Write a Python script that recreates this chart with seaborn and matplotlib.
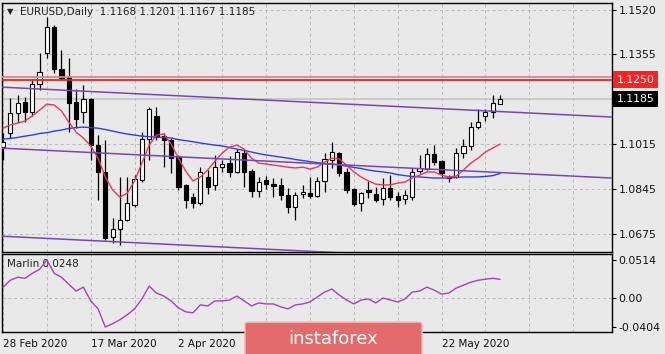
import numpy as np
import pandas as pd
import matplotlib
matplotlib.use("Agg")
import matplotlib.pyplot as plt
import matplotlib.transforms as mtransforms
from matplotlib.patches import FancyBboxPatch
import seaborn as sns

# EURUSD daily candles
opens = [1.1004, 1.1057, 1.1132, 1.1173, 1.1136, 1.1241, 1.1358, 1.1456, 1.1298, 1.1268,
         1.1173, 1.1136, 1.1185, 1.1011, 1.0910, 1.0665, 1.0695, 1.0729, 1.0785, 1.0879,
         1.1034, 1.1121, 1.1045, 1.1030, 1.0966, 1.0861, 1.0815, 1.0793, 1.0891, 1.0861,
         1.0928, 1.0943, 1.0910, 1.0981, 1.0913, 1.0838, 1.0879, 1.0864, 1.0861, 1.0823,
         1.0778, 1.0827, 1.0830, 1.0819, 1.0876, 1.0955, 1.0981, 1.0910, 1.0845, 1.0793,
         1.0842, 1.0827, 1.0808, 1.0849, 1.0819, 1.0808, 1.0815, 1.0913, 1.0921, 1.0977,
         1.0951, 1.0891, 1.0891, 1.0981, 1.1008, 1.1079, 1.1121, 1.1136, 1.1168]
highs = [1.1057, 1.1189, 1.1200, 1.1192, 1.1256, 1.1358, 1.1494, 1.1464, 1.1369, 1.1339,
         1.1222, 1.1238, 1.1189, 1.1049, 1.1030, 1.0736, 1.0891, 1.0891, 1.0898, 1.1060,
         1.1155, 1.1155, 1.1057, 1.1038, 1.0974, 1.0864, 1.0830, 1.0928, 1.0917, 1.0974,
         1.0955, 1.0970, 1.0996, 1.0992, 1.0921, 1.0891, 1.0894, 1.0887, 1.0887, 1.0849,
         1.0834, 1.0861, 1.0891, 1.0891, 1.0981, 1.1023, 1.0985, 1.0925, 1.0849, 1.0834,
         1.0876, 1.0853, 1.0887, 1.0898, 1.0834, 1.0842, 1.0925, 1.0974, 1.1000, 1.1011,
         1.0955, 1.0898, 1.1000, 1.1034, 1.1098, 1.1147, 1.1147, 1.1200, 1.1201]
lows = [1.0955, 1.1038, 1.1098, 1.1098, 1.1121, 1.1219, 1.1339, 1.1283, 1.1256, 1.1060,
        1.1075, 1.1094, 1.0955, 1.0804, 1.0653, 1.0642, 1.0634, 1.0725, 1.0778, 1.0872,
        1.0955, 1.1030, 1.0928, 1.0906, 1.0842, 1.0774, 1.0774, 1.0785, 1.0827, 1.0842,
        1.0910, 1.0891, 1.0906, 1.0853, 1.0815, 1.0815, 1.0845, 1.0815, 1.0804, 1.0755,
        1.0729, 1.0812, 1.0812, 1.0815, 1.0834, 1.0925, 1.0894, 1.0830, 1.0781, 1.0763,
        1.0812, 1.0796, 1.0785, 1.0804, 1.0778, 1.0789, 1.0804, 1.0906, 1.0917, 1.0936,
        1.0891, 1.0872, 1.0887, 1.0962, 1.0992, 1.1072, 1.1102, 1.1113, 1.1167]
closes = [1.1023, 1.1132, 1.1170, 1.1136, 1.1241, 1.1287, 1.1456, 1.1298, 1.1264, 1.1170,
          1.1109, 1.1185, 1.1011, 1.0910, 1.0661, 1.0695, 1.0729, 1.0793, 1.0883, 1.1034,
          1.1147, 1.1042, 1.1030, 1.0962, 1.0853, 1.0804, 1.0793, 1.0910, 1.0853, 1.0928,
          1.0940, 1.0910, 1.0985, 1.0910, 1.0838, 1.0872, 1.0864, 1.0857, 1.0823, 1.0778,
          1.0823, 1.0834, 1.0819, 1.0876, 1.0959, 1.0985, 1.0906, 1.0842, 1.0789, 1.0830,
          1.0834, 1.0804, 1.0849, 1.0815, 1.0804, 1.0823, 1.0910, 1.0925, 1.0977, 1.0947,
          1.0906, 1.0887, 1.0981, 1.1008, 1.1079, 1.1098, 1.1136, 1.1170, 1.1185]

# moving averages
ma_fast = [1.1075, 1.1087, 1.1094, 1.1102, 1.1121, 1.1143, 1.1166, 1.1162, 1.1140, 1.1098,
           1.1060, 1.1038, 1.1008, 1.0962, 1.0891, 1.0842, 1.0815, 1.0830, 1.0876, 1.0943,
           1.1011, 1.1049, 1.1053, 1.1015, 1.0962, 1.0913, 1.0876, 1.0891, 1.0917, 1.0951,
           1.0981, 1.1004, 1.1011, 1.0996, 1.0962, 1.0943, 1.0940, 1.0936, 1.0932, 1.0928,
           1.0925, 1.0928, 1.0921, 1.0928, 1.0947, 1.0962, 1.0959, 1.0936, 1.0910, 1.0891,
           1.0876, 1.0864, 1.0861, 1.0861, 1.0868, 1.0872, 1.0887, 1.0898, 1.0910, 1.0910,
           1.0898, 1.0891, 1.0894, 1.0917, 1.0943, 1.0962, 1.0985, 1.1000, 1.1015]
ma_slow = [1.1034, 1.1036, 1.1040, 1.1045, 1.1049, 1.1055, 1.1058, 1.1064, 1.1068, 1.1074,
           1.1077, 1.1079, 1.1077, 1.1075, 1.1070, 1.1064, 1.1058, 1.1053, 1.1049, 1.1045,
           1.1043, 1.1041, 1.1040, 1.1038, 1.1032, 1.1028, 1.1024, 1.1019, 1.1015, 1.1011,
           1.1008, 1.1002, 1.0996, 1.0991, 1.0985, 1.0979, 1.0974, 1.0970, 1.0966, 1.0962,
           1.0957, 1.0953, 1.0949, 1.0945, 1.0942, 1.0940, 1.0936, 1.0932, 1.0927, 1.0923,
           1.0917, 1.0913, 1.0910, 1.0906, 1.0900, 1.0896, 1.0893, 1.0891, 1.0889, 1.0887,
           1.0887, 1.0887, 1.0889, 1.0891, 1.0891, 1.0891, 1.0893, 1.0896, 1.0904]

# Marlin oscillator
marlin = [0.0142, 0.0236, 0.0277, 0.0263, 0.0331, 0.0385, 0.0514, 0.0331, 0.0277, 0.0182,
          0.0088, 0.0142, -0.0047, -0.0155, -0.0404, -0.0358, -0.0304, -0.0236, -0.0155, -0.0020,
          0.0155, 0.0061, 0.0020, -0.0047, -0.0142, -0.0196, -0.0209, -0.0101, -0.0115, -0.0047,
          -0.0047, -0.0034, 0.0020, -0.0047, -0.0115, -0.0074, -0.0088, -0.0088, -0.0128, -0.0155,
          -0.0101, -0.0088, -0.0061, 0.0007, 0.0074, 0.0115, 0.0034, -0.0034, -0.0088, -0.0034,
          -0.0020, -0.0074, -0.0007, -0.0034, -0.0061, -0.0020, 0.0074, 0.0088, 0.0142, 0.0101,
          0.0047, 0.0061, 0.0128, 0.0169, 0.0209, 0.0236, 0.0250, 0.0263, 0.0248]

# trend channel lines (bar, price)
channel_bars = [-0.4, 83.3]
channel_upper = [1.1230, 1.1117]
channel_mid = [1.1000, 1.0887]
channel_low = [1.0668, 1.0555]

level_lines = [1.1268, 1.1256]
level_label = "1.1250"

date_ticks = [0, 12, 24, 60]
date_labels = ["28 Feb 2020", "17 Mar 2020", "2 Apr 2020", "22 May 2020"]
price_ticks = [1.1520, 1.1355, 1.1015, 1.0845, 1.0675]
marlin_ticks = [0.0514, 0.0, -0.0404]
marlin_tick_labels = ["0.0514", "0.00", "-0.0404"]

bars = np.arange(len(closes))
df = pd.DataFrame({"bar": bars, "open": opens, "high": highs, "low": lows, "close": closes,
                   "fast": ma_fast, "slow": ma_slow, "marlin": marlin})

sns.set_theme(style="white")
plt.rcParams["font.family"] = ["DejaVu Sans"]
bg = "#E9E9E9"
grid_c = "#B8B8B8"

fig = plt.figure(figsize=(6.65, 3.54), dpi=100, facecolor=bg)
ax = fig.add_axes([0.003, 0.2881, 0.917, 0.7034], facecolor=bg)
ax2 = fig.add_axes([0.003, 0.0621, 0.917, 0.2204], facecolor=bg)

for a in (ax, ax2):
    for s in a.spines.values():
        s.set_color("black")
        s.set_linewidth(1.0)
    a.set_xlim(-0.14, 83.3)
    for g in range(0, 84, 6):
        a.axvline(g, color=grid_c, lw=0.7, ls=(0, (3, 3)), zorder=0)
    a.yaxis.tick_right()
    a.tick_params(axis="y", direction="out", length=3, width=0.8, color="black",
                  labelsize=7.8, pad=2, labelcolor="#111111")

# price pane
ax.set_ylim(1.0608, 1.1547)
for p in price_ticks:
    ax.axhline(p, color=grid_c, lw=0.7, ls=(0, (3, 3)), zorder=0)
ax.axhline(closes[-1], color="#C4C4C4", lw=1.2, zorder=1)

ax.vlines(df["bar"], df["low"], df["high"], color="black", lw=0.9, zorder=3)
up = df["close"] >= df["open"]
body_lo = np.minimum(df["open"], df["close"])
body_h = np.abs(df["close"] - df["open"]).clip(lower=0.00012)
ax.bar(df["bar"][up], body_h[up], bottom=body_lo[up], width=0.58,
       color="white", edgecolor="black", linewidth=0.8, zorder=4)
ax.bar(df["bar"][~up], body_h[~up], bottom=body_lo[~up], width=0.58,
       color="black", edgecolor="black", linewidth=0.8, zorder=4)

sns.lineplot(data=df, x="bar", y="slow", ax=ax, color="#2F3DF2", lw=1.0, zorder=5)
sns.lineplot(data=df, x="bar", y="fast", ax=ax, color="#E8365C", lw=1.0, zorder=5)
for ch in (channel_upper, channel_mid, channel_low):
    sns.lineplot(x=channel_bars, y=ch, ax=ax, color="#7A45B5", lw=1.1, zorder=5)
ax.axhline(level_lines[0], color="#F27C7C", lw=1.3, zorder=5)
ax.axhline(level_lines[1], color="#F02020", lw=1.3, zorder=5)

ax.set_yticks(price_ticks)
ax.set_yticklabels([f"{p:.4f}" for p in price_ticks])
ax.set_xticks([])
ax.set_xlabel("")
ax.set_ylabel("")

trans = mtransforms.blended_transform_factory(ax.transAxes, ax.transData)
ax.text(1.008, np.mean(level_lines) - 0.0004, level_label, transform=trans, fontsize=7.8,
        color="white", va="center", ha="left",
        bbox=dict(boxstyle="square,pad=0.3", fc="#FF2020", ec="none"))
ax.text(1.008, closes[-1], f"{closes[-1]:.4f}", transform=trans, fontsize=7.8,
        color="white", va="center", ha="left",
        bbox=dict(boxstyle="square,pad=0.3", fc="black", ec="none"))

ax.text(0.008, 0.965, "\u25bc", transform=ax.transAxes, fontsize=6, va="center", ha="left", color="#222222")
ax.text(0.03, 0.965,
        f"EURUSD,Daily  {opens[-1]:.4f} {highs[-1]:.4f} {lows[-1]:.4f} {closes[-1]:.4f}",
        transform=ax.transAxes, fontsize=7.5, va="center", ha="left", color="#222222")

# indicator pane
ax2.set_ylim(-0.0472, 0.0595)
ax2.axhline(0, color=grid_c, lw=0.7, ls=(0, (3, 3)), zorder=0)
sns.lineplot(data=df, x="bar", y="marlin", ax=ax2, color="#A93FBF", lw=1.0, zorder=5)
ax2.set_yticks(marlin_ticks)
ax2.set_yticklabels(marlin_tick_labels)
ax2.set_xticks(date_ticks)
ax2.set_xticklabels(date_labels, ha="left")
ax2.tick_params(axis="x", direction="out", length=3, width=0.8, color="black",
                labelsize=7.5, pad=2, labelcolor="#111111")
ax2.set_xlabel("")
ax2.set_ylabel("")
ax2.text(0.008, 0.87, f"Marlin {marlin[-1]:.4f}", transform=ax2.transAxes,
         fontsize=7.5, va="center", ha="left", color="#222222")

# watermark logo
logo = FancyBboxPatch((245 / 665, -0.02), 177 / 665, 0.11, transform=fig.transFigure,
                      boxstyle="round,pad=0,rounding_size=0.006", fc="#E36B6B",
                      ec="#F4B8B8", lw=1.0, zorder=10)
fig.patches.append(logo)
fig.text(333 / 665, 1 - 339 / 354, "instaforex", color="white", fontsize=13,
         ha="center", va="center", zorder=11)

fig.savefig("out.png", dpi=100, facecolor=bg)
